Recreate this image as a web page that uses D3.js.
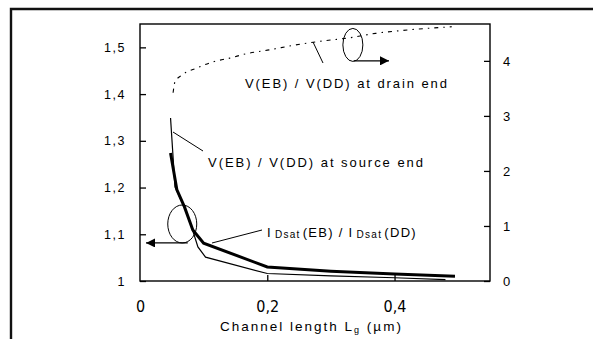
<!DOCTYPE html>
<html>
<head>
<meta charset="utf-8">
<script src="https://cdn.jsdelivr.net/npm/d3@7"></script>
<style>
  html, body { margin: 0; padding: 0; background: #fff; }
  svg { display: block; font-family: "Liberation Sans", Arial, sans-serif; }
</style>
</head>
<body>
<svg id="chart" width="593" height="339"></svg>
<script>
// Channel length (µm) sample points for each curve
const lenIdsat = [0.048, 0.058, 0.070, 0.083, 0.100, 0.200, 0.300, 0.400, 0.495];
const idsatRatio = [1.274, 1.195, 1.158, 1.109, 1.081, 1.030, 1.021, 1.015, 1.010];

const lenSource = [0.048, 0.055, 0.070, 0.081, 0.091, 0.103, 0.200, 0.300, 0.400, 0.480];
const sourceRatio = [1.349, 1.201, 1.158, 1.116, 1.073, 1.051, 1.016, 1.011, 1.007, 1.003];

const lenDrain = [0.052, 0.055, 0.067, 0.089, 0.114, 0.141, 0.167, 0.203, 0.245, 0.286, 0.330, 0.370, 0.410, 0.450, 0.490];
const drainRatio = [3.42, 3.62, 3.75, 3.87, 3.98, 4.05, 4.13, 4.20, 4.29, 4.36, 4.42, 4.50, 4.55, 4.59, 4.62];

// Axis ticks
const xTicks = [0, 0.2, 0.4];
const leftTicks = [1, 1.1, 1.2, 1.3, 1.4, 1.5];
const rightTicks = [0, 1, 2, 3, 4];

const fmt = d => String(d).replace(".", ",");

const svg = d3.select("#chart");

const x = d3.scaleLinear().domain([0, 0.55]).range([140, 490]);
const yL = d3.scaleLinear().domain([1, 1.55]).range([281, 24]);
const yR = d3.scaleLinear().domain([0, 4.67]).range([281, 24]);

// outer frame (top and left edges)
svg.append("path")
  .attr("d", "M11,339 V9 H593")
  .attr("fill", "none")
  .attr("stroke", "#111")
  .attr("stroke-width", 2.4);

// plot box
svg.append("rect")
  .attr("x", 140).attr("y", 24)
  .attr("width", 350).attr("height", 257)
  .attr("fill", "none")
  .attr("stroke", "#000")
  .attr("stroke-width", 1.4);

// axes
const gx = svg.append("g").attr("transform", "translate(0,281)")
  .call(d3.axisBottom(x).tickValues(xTicks).tickFormat(fmt).tickSize(-6).tickPadding(20));
const gl = svg.append("g").attr("transform", "translate(140,0)")
  .call(d3.axisLeft(yL).tickValues(leftTicks).tickFormat(fmt).tickSize(-6).tickPadding(14));
const gr = svg.append("g").attr("transform", "translate(490,0)")
  .call(d3.axisRight(yR).tickValues(rightTicks).tickFormat(d3.format("d")).tickSize(-6).tickPadding(13));

[gx, gl, gr].forEach(g => {
  g.select(".domain").remove();
  g.selectAll(".tick line").attr("stroke", "#000").attr("stroke-width", 1.3);
  g.selectAll(".tick text").attr("fill", "#000");
});
gl.selectAll(".tick text").attr("font-size", 12.5).attr("letter-spacing", "1.5px");
gr.selectAll(".tick text").attr("font-size", 13);
gx.selectAll(".tick text")
  .attr("font-family", "'Liberation Sans Narrow', 'DejaVu Sans Condensed', Arial, sans-serif")
  .attr("font-size", 16);
gx.selectAll(".tick").filter(d => d === 0).select("line").remove();

// curves
const lineL = d3.line().x(d => x(d[0])).y(d => yL(d[1]));
const lineR = d3.line().x(d => x(d[0])).y(d => yR(d[1])).curve(d3.curveMonotoneX);

svg.append("path")
  .datum(d3.zip(lenSource, sourceRatio))
  .attr("d", lineL)
  .attr("fill", "none").attr("stroke", "#000").attr("stroke-width", 1.2);

svg.append("path")
  .datum(d3.zip(lenIdsat, idsatRatio))
  .attr("d", lineL)
  .attr("fill", "none").attr("stroke", "#000").attr("stroke-width", 3);

svg.append("path")
  .datum(d3.zip(lenDrain, drainRatio))
  .attr("d", lineR)
  .attr("fill", "none").attr("stroke", "#000").attr("stroke-width", 1.1)
  .attr("stroke-dasharray", "4,5,1.5,5");

// arrowhead marker
svg.append("defs").append("marker")
  .attr("id", "arrow")
  .attr("viewBox", "0 0 10 10")
  .attr("refX", 10).attr("refY", 5)
  .attr("markerWidth", 14).attr("markerHeight", 9)
  .attr("markerUnits", "userSpaceOnUse")
  .attr("orient", "auto")
  .append("path").attr("d", "M0,0 L10,5 L0,10 Z").attr("fill", "#000");

// series-group ellipses with axis arrows
svg.append("ellipse")
  .attr("cx", x(0.0664)).attr("cy", yL(1.122))
  .attr("rx", 14.5).attr("ry", 19)
  .attr("fill", "none").attr("stroke", "#000").attr("stroke-width", 1);
svg.append("line")
  .attr("x1", x(0.075)).attr("y1", yL(1.0814))
  .attr("x2", 146).attr("y2", yL(1.0814))
  .attr("stroke", "#000").attr("stroke-width", 1.2)
  .attr("marker-end", "url(#arrow)");

svg.append("ellipse")
  .attr("cx", x(0.3345)).attr("cy", yR(4.29))
  .attr("rx", 10).attr("ry", 16.5)
  .attr("fill", "none").attr("stroke", "#000").attr("stroke-width", 1);
svg.append("line")
  .attr("x1", x(0.336)).attr("y1", yR(4.0))
  .attr("x2", 389).attr("y2", yR(4.0))
  .attr("stroke", "#000").attr("stroke-width", 1.2)
  .attr("marker-end", "url(#arrow)");

// leader lines
const leaders = [
  [313, 42, 323, 63],
  [173, 132, 203, 151],
  [212, 243, 262, 230]
];
svg.selectAll("line.leader").data(leaders).join("line")
  .attr("class", "leader")
  .attr("x1", d => d[0]).attr("y1", d => d[1])
  .attr("x2", d => d[2]).attr("y2", d => d[3])
  .attr("stroke", "#000").attr("stroke-width", 1);

// labels
svg.append("text")
  .attr("x", 245).attr("y", 87.5)
  .attr("font-size", 13)
  .attr("textLength", 202).attr("lengthAdjust", "spacing")
  .text("V(EB) / V(DD) at drain end");

svg.append("text")
  .attr("x", 208).attr("y", 167)
  .attr("font-size", 13)
  .attr("textLength", 215).attr("lengthAdjust", "spacing")
  .text("V(EB) / V(DD) at source end");

const idl = svg.append("text")
  .attr("x", 267).attr("y", 236.5)
  .attr("font-size", 13)
  .attr("letter-spacing", "1.3px");
idl.append("tspan").text("I");
idl.append("tspan").attr("font-size", 10).attr("dx", 3).attr("dy", 1).text("Dsat");
idl.append("tspan").attr("dy", -1).attr("dx", 2).text("(EB) / I");
idl.append("tspan").attr("font-size", 10).attr("dx", 3).attr("dy", 1).text("Dsat");
idl.append("tspan").attr("dy", -1).attr("dx", 2).text("(DD)");

const title = svg.append("text")
  .attr("x", 220).attr("y", 331)
  .attr("font-size", 13.5)
  .attr("letter-spacing", "2px");
title.append("tspan").text("Channel length L");
title.append("tspan").attr("font-size", 9).attr("dy", 2).text("g");
title.append("tspan").attr("dy", -2).text(" (µm)");
</script>
</body>
</html>
